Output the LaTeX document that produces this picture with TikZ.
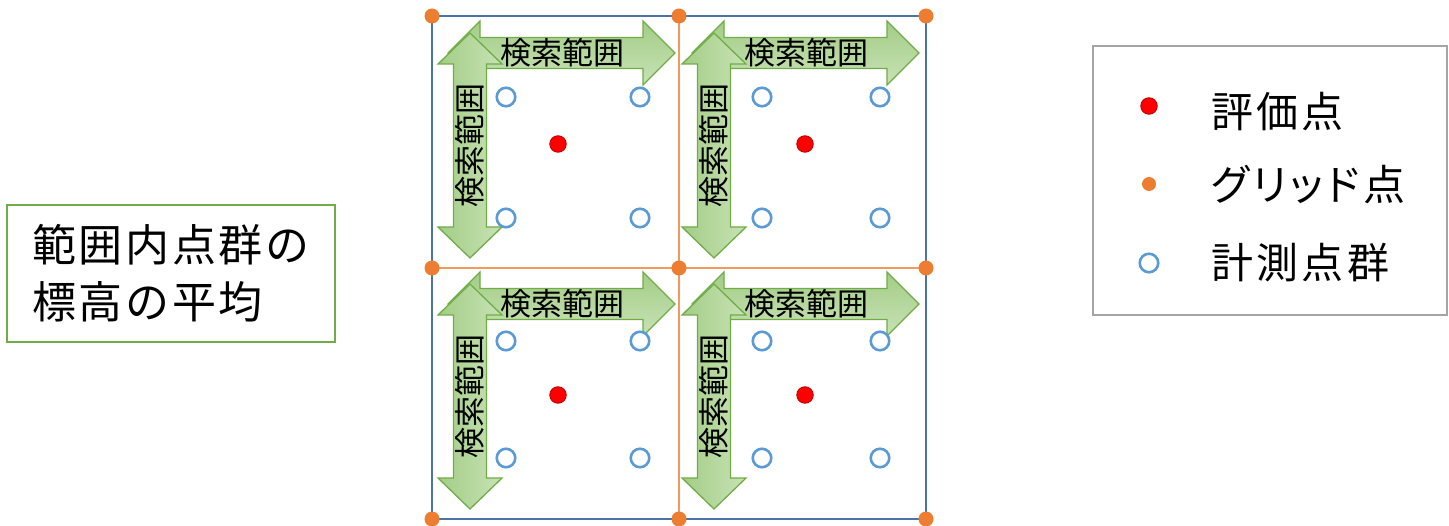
\documentclass[tikz,border=0pt]{standalone}
\usepackage{fontspec}
\newfontfamily\jp{Noto Sans CJK JP}
\newfontfamily\jpbox[LetterSpace=6]{Noto Sans CJK JP}
\newfontfamily\jpleg[LetterSpace=8,RawFeature=+palt]{Noto Sans CJK JP}
\definecolor{arrline}{HTML}{70AD47}
\definecolor{arrdark}{HTML}{A3CD86}
\definecolor{arrlight}{HTML}{C8E2B6}
\definecolor{evalred}{HTML}{FF0000}
\definecolor{evaldark}{HTML}{C00000}
\definecolor{gridorange}{HTML}{ED7D31}
\definecolor{gridline}{HTML}{F19A5E}
\definecolor{measblue}{HTML}{5B9BD5}
\definecolor{frameblue}{HTML}{4A74A6}
\definecolor{boxgreen}{HTML}{70AD47}
\definecolor{leggray}{HTML}{A5A5A5}
\tikzset{
  arrowbox/.style={draw=arrline, line width=1.3pt, line join=miter},
  harr/.style={arrowbox, top color=arrdark, bottom color=arrlight},
  varr/.style={arrowbox, left color=arrdark, right color=arrlight},
  evalpt/.style={circle, fill=evalred, draw=evaldark, line width=0.9pt, minimum size=16.5pt, inner sep=0pt},
  gridpt/.style={circle, fill=gridorange, minimum size=15pt, inner sep=0pt},
  measpt/.style={circle, draw=measblue, line width=2.6pt, minimum size=18.5pt, inner sep=0pt, fill=white},
  arrtext/.style={font=\jp\fontsize{31}{31}\selectfont, inner sep=0pt},
  legtext/.style={font=\jpleg\fontsize{42}{42}\selectfont, inner sep=0pt, anchor=west},
}
\begin{document}
\begin{tikzpicture}[x=1pt,y=-1pt]
\useasboundingbox (0,0) rectangle (1449,526);
\fill[white] (0,0) rectangle (1449,526);

% grid lines
\draw[gridline, line width=1.3pt] (432,268) -- (926,268);
\draw[gridline, line width=1.3pt] (679,16) -- (679,519);
% outer frame
\draw[frameblue, line width=2.7pt] (432,16) rectangle (926,519);

% search-range arrows
\foreach \dx/\dy [count=\i] in {0/0,244/0,0/251,244/251} {
  \begin{scope}[shift={(\dx,\dy)}]
    \draw[harr] (448,53) -- (480,21) -- (480,37.5) -- (643,37.5) -- (643,21) -- (675,53)
      -- (643,85) -- (643,68.5) -- (480,68.5) -- (480,85) -- cycle;
    \node[arrtext] (ht\i) at (562,53) {検索範囲};
    \draw[varr] (470,33) -- (502,64) -- (486.5,64) -- (486.5,227) -- (502,227) -- (470,258)
      -- (438,227) -- (453.5,227) -- (453.5,64) -- (438,64) -- cycle;
    \node[arrtext, rotate=90] (vt\i) at (470,146) {検索範囲};
  \end{scope}
}

% measurement points
\foreach \x [count=\i] in {506,640,762,880} {
  \foreach \y [count=\j] in {97,218,341,458} {
    \node[measpt] (m\i\j) at (\x,\y) {};
  }
}
% evaluation points
\node[evalpt] (e1) at (558,144) {};
\node[evalpt] (e2) at (805,144) {};
\node[evalpt] (e3) at (558,395) {};
\node[evalpt] (e4) at (805,395) {};
% grid points
\foreach \x [count=\i] in {432,679,926} {
  \foreach \y [count=\j] in {16,268,519} {
    \node[gridpt] (g\i\j) at (\x,\y) {};
  }
}

% left caption box
\node[draw=boxgreen, line width=1.8pt, minimum width=328pt, minimum height=137pt,
      align=left, inner sep=0pt, font=\jpbox\fontsize{44}{57}\selectfont]
      (summary) at (171,273.5) {範囲内点群の\\標高の平均};

% legend
\node[draw=leggray, line width=1.8pt, minimum width=354pt, minimum height=269pt, inner sep=0pt]
      (legend) at (1270,180.5) {};
\node[evalpt] (lev) at (1149,106) {};
\node[gridpt, minimum size=14pt] (lgr) at (1149,184) {};
\node[measpt] (lme) at (1149,263) {};
\node[legtext] (tev) at (1211,112) {評価点};
\node[legtext] (tgr) at (1211,185) {グリッド点};
\node[legtext] (tme) at (1211,263) {計測点群};
\end{tikzpicture}
\end{document}
